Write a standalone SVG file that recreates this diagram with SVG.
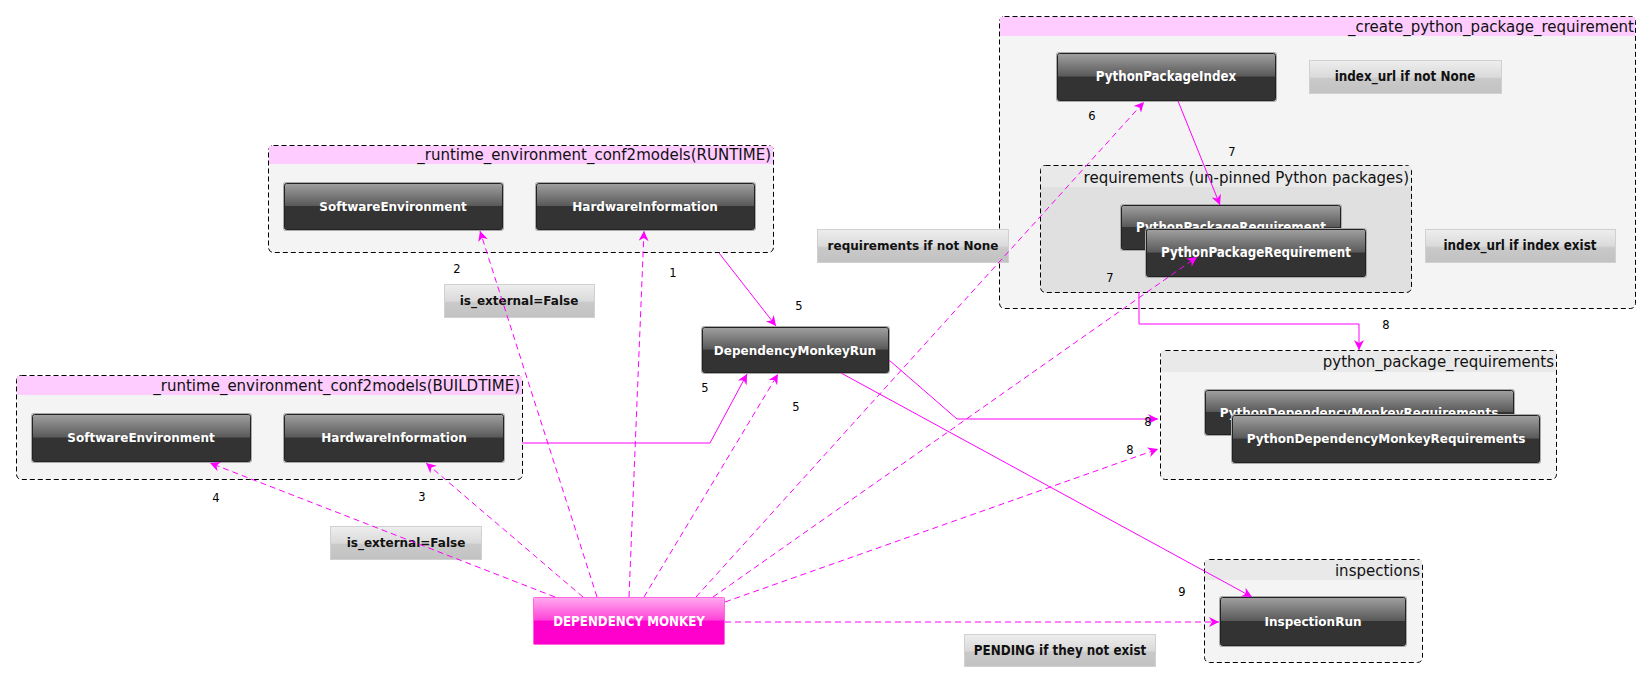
<svg xmlns="http://www.w3.org/2000/svg" width="1649" height="685" viewBox="0 0 1649 685">
  <style>
    .grp { fill: #f4f4f4; stroke: #000; stroke-width: 1; stroke-dasharray: 5 3; }
    .grp-dark { fill: #e0e0e0; stroke: #000; stroke-width: 1; stroke-dasharray: 5 3; }
    .hdr-pink { fill: #ffccff; }
    .hdr-grey { fill: #e9e9e9; }
    .gtitle { font-family: "DejaVu Sans", sans-serif; font-size: 15px; fill: #111; text-anchor: end; }
    .node-outer { fill: none; stroke: #aaa; stroke-width: 1; }
    .node { fill: url(#gDark); stroke: #222; stroke-width: 1; }
    .node-pink { fill: url(#gPink); stroke: #ff66dd; stroke-width: 1; }
    .ntext { font-family: "DejaVu Sans", sans-serif; font-weight: bold; font-size: 12px; fill: #fff; text-anchor: middle; }
    .ctext { font-family: "DejaVu Sans Condensed", "DejaVu Sans", sans-serif; font-stretch: condensed; font-weight: bold; font-size: 13.2px; fill: #fff; text-anchor: middle; }
    .lbl { fill: url(#gLabel); stroke: #d0d0d0; stroke-width: 1; }
    .ltext { font-family: "DejaVu Sans", sans-serif; font-weight: bold; font-size: 12px; fill: #111; text-anchor: middle; }
    .lctext { font-family: "DejaVu Sans Condensed", "DejaVu Sans", sans-serif; font-stretch: condensed; font-weight: bold; font-size: 13.3px; fill: #111; text-anchor: middle; }
    .num { font-family: "DejaVu Sans", sans-serif; font-size: 11.5px; fill: #000; text-anchor: middle; }
    .solid { fill: none; stroke: #ff00ff; stroke-width: 1; marker-end: url(#arrow); }
    .dash { fill: none; stroke: #ff00ff; stroke-width: 1; stroke-dasharray: 6 4; marker-end: url(#arrow); }
  </style>
  <defs>
    <linearGradient id="gDark" x1="0" y1="0" x2="0" y2="1">
      <stop offset="0" stop-color="#a0a0a0"/>
      <stop offset="0.48" stop-color="#5a5a5a"/>
      <stop offset="0.5" stop-color="#333"/>
      <stop offset="1" stop-color="#333"/>
    </linearGradient>
    <linearGradient id="gPink" x1="0" y1="0" x2="0" y2="1">
      <stop offset="0" stop-color="#ffaaee"/>
      <stop offset="0.48" stop-color="#ff44d8"/>
      <stop offset="0.5" stop-color="#ff00cc"/>
      <stop offset="1" stop-color="#ff00cc"/>
    </linearGradient>
    <linearGradient id="gLabel" x1="0" y1="0" x2="0" y2="1">
      <stop offset="0" stop-color="#eeeeee"/>
      <stop offset="0.5" stop-color="#dadada"/>
      <stop offset="0.55" stop-color="#c9c9c9"/>
      <stop offset="1" stop-color="#c2c2c2"/>
    </linearGradient>
    <marker id="arrow" viewBox="0 0 10 10" refX="10" refY="5" markerWidth="13" markerHeight="10" markerUnits="userSpaceOnUse" orient="auto">
      <path d="M0,0 L10,5 L0,10 L3,5 z" fill="#ff00ff"/>
    </marker>
  </defs>

  <!-- container groups -->
  <g id="grp-create-python-package-requirement">
    <rect class="grp" x="999.5" y="16.5" width="636" height="292" rx="5"/>
    <rect class="hdr-pink" x="1000" y="17" width="635" height="19"/>
    <text class="gtitle" x="1634" y="32">_create_python_package_requirement</text>
  </g>
  <g id="grp-requirements">
    <rect class="grp-dark" x="1040.5" y="165.5" width="371" height="127" rx="5"/>
    <rect class="hdr-grey" x="1041" y="166" width="370" height="21"/>
    <text class="gtitle" x="1409" y="183">requirements (un-pinned Python packages)</text>
  </g>
  <g id="grp-runtime">
    <rect class="grp" x="268.5" y="145.5" width="505" height="107" rx="5"/>
    <rect class="hdr-pink" x="269" y="146" width="504" height="18"/>
    <text class="gtitle" x="771" y="160">_runtime_environment_conf2models(RUNTIME)</text>
  </g>
  <g id="grp-buildtime">
    <rect class="grp" x="16.5" y="375.5" width="506" height="104" rx="5"/>
    <rect class="hdr-pink" x="17" y="376" width="505" height="19"/>
    <text class="gtitle" x="520" y="391">_runtime_environment_conf2models(BUILDTIME)</text>
  </g>
  <g id="grp-python-package-requirements">
    <rect class="grp" x="1160.5" y="350.5" width="396" height="129" rx="5"/>
    <rect class="hdr-grey" x="1161" y="351" width="395" height="21"/>
    <text class="gtitle" x="1554" y="367">python_package_requirements</text>
  </g>
  <g id="grp-inspections">
    <rect class="grp" x="1204.5" y="559.5" width="218" height="103" rx="5"/>
    <rect class="hdr-grey" x="1205" y="560" width="217" height="20"/>
    <text class="gtitle" x="1420" y="576">inspections</text>
  </g>

  <!-- nodes -->
  <g id="node-python-package-index">
    <rect class="node-outer" x="1056.5" y="52.5" width="220" height="49" rx="2"/>
    <rect class="node" x="1057.5" y="53.5" width="218" height="47" rx="2"/>
    <text class="ctext" x="1166" y="81">PythonPackageIndex</text>
  </g>
  <g id="node-ppr-back">
    <rect class="node-outer" x="1120.5" y="204.5" width="221" height="46" rx="2"/>
    <rect class="node" x="1121.5" y="205.5" width="219" height="44" rx="2"/>
    <text class="ctext" x="1231" y="232">PythonPackageRequirement</text>
  </g>
  <g id="node-ppr-front">
    <rect class="node-outer" x="1145.5" y="228.5" width="221" height="49" rx="2"/>
    <rect class="node" x="1146.5" y="229.5" width="219" height="47" rx="2"/>
    <text class="ctext" x="1256" y="257">PythonPackageRequirement</text>
  </g>
  <g id="node-software-env-runtime">
    <rect class="node-outer" x="283.5" y="182.5" width="220" height="48" rx="2"/>
    <rect class="node" x="284.5" y="183.5" width="218" height="46" rx="2"/>
    <text class="ntext" x="393" y="211">SoftwareEnvironment</text>
  </g>
  <g id="node-hardware-info-runtime">
    <rect class="node-outer" x="535.5" y="182.5" width="220" height="48" rx="2"/>
    <rect class="node" x="536.5" y="183.5" width="218" height="46" rx="2"/>
    <text class="ntext" x="645" y="211">HardwareInformation</text>
  </g>
  <g id="node-dependency-monkey-run">
    <rect class="node-outer" x="701.5" y="326.5" width="188" height="47" rx="2"/>
    <rect class="node" x="702.5" y="327.5" width="186" height="45" rx="2"/>
    <text class="ntext" x="795" y="355">DependencyMonkeyRun</text>
  </g>
  <g id="node-software-env-buildtime">
    <rect class="node-outer" x="31.5" y="413.5" width="220" height="49" rx="2"/>
    <rect class="node" x="32.5" y="414.5" width="218" height="47" rx="2"/>
    <text class="ntext" x="141" y="442">SoftwareEnvironment</text>
  </g>
  <g id="node-hardware-info-buildtime">
    <rect class="node-outer" x="283.5" y="413.5" width="221" height="49" rx="2"/>
    <rect class="node" x="284.5" y="414.5" width="219" height="47" rx="2"/>
    <text class="ntext" x="394" y="442">HardwareInformation</text>
  </g>
  <g id="node-pdm-requirements-back">
    <rect class="node-outer" x="1204.5" y="389.5" width="310" height="46" rx="2"/>
    <rect class="node" x="1205.5" y="390.5" width="308" height="44" rx="2"/>
    <text class="ntext" x="1359" y="417">PythonDependencyMonkeyRequirements</text>
  </g>
  <g id="node-pdm-requirements-front">
    <rect class="node-outer" x="1231.5" y="414.5" width="309" height="49" rx="2"/>
    <rect class="node" x="1232.5" y="415.5" width="307" height="47" rx="2"/>
    <text class="ntext" x="1386" y="443">PythonDependencyMonkeyRequirements</text>
  </g>
  <g id="node-inspection-run">
    <rect class="node-outer" x="1219.5" y="596.5" width="187" height="50" rx="2"/>
    <rect class="node" x="1220.5" y="597.5" width="185" height="48" rx="2"/>
    <text class="ntext" x="1313" y="626">InspectionRun</text>
  </g>
  <g id="node-dependency-monkey">
    <rect class="node-pink" x="533.5" y="597.5" width="191" height="47" rx="1"/>
    <text class="ctext" x="629" y="626">DEPENDENCY MONKEY</text>
  </g>

  <!-- condition labels -->
  <g id="label-index-url-not-none">
    <rect class="lbl" x="1309.5" y="60.5" width="192" height="33"/>
    <text class="lctext" x="1405" y="81">index_url if not None</text>
  </g>
  <g id="label-index-url-exist">
    <rect class="lbl" x="1425.5" y="229.5" width="190" height="33"/>
    <text class="lctext" x="1520" y="250">index_url if index exist</text>
  </g>
  <g id="label-requirements-not-none">
    <rect class="lbl" x="817.5" y="229.5" width="191" height="33"/>
    <text class="ltext" x="913" y="250">requirements if not None</text>
  </g>
  <g id="label-is-external-runtime">
    <rect class="lbl" x="444.5" y="284.5" width="150" height="33"/>
    <text class="ltext" x="519" y="305">is_external=False</text>
  </g>
  <g id="label-is-external-buildtime">
    <rect class="lbl" x="330.5" y="526.5" width="151" height="33"/>
    <text class="ltext" x="406" y="547">is_external=False</text>
  </g>
  <g id="label-pending">
    <rect class="lbl" x="964.5" y="634.5" width="191" height="32"/>
    <text class="lctext" x="1060" y="655">PENDING if they not exist</text>
  </g>

  <!-- connectors -->
  <g id="connectors">
    <path class="solid" d="M719,253 L776,326"/>
    <path class="solid" d="M522,443 L710,443 L747,374"/>
    <path class="dash" d="M597,597 L480,231"/>
    <path class="dash" d="M629,597 L644,231"/>
    <path class="dash" d="M555,597 L210,463"/>
    <path class="dash" d="M583,597 L426,463"/>
    <path class="dash" d="M644,597 L778,374"/>
    <path class="dash" d="M696,597 L1144,102"/>
    <path class="dash" d="M713,597 L1197,257"/>
    <path class="dash" d="M725,602 L1158,449"/>
    <path class="dash" d="M725,622 L1219,622"/>
    <path class="solid" d="M841,373 L1252,597"/>
    <path class="solid" d="M889,360 L957,419 L1158,419"/>
    <path class="solid" d="M1178,101 L1220,205"/>
    <path class="solid" d="M1139,292 L1139,324 L1359,324 L1359,350"/>

    <text class="num" x="673" y="277">1</text>
    <text class="num" x="457" y="273">2</text>
    <text class="num" x="422" y="501">3</text>
    <text class="num" x="216" y="502">4</text>
    <text class="num" x="799" y="310">5</text>
    <text class="num" x="705" y="392">5</text>
    <text class="num" x="796" y="411">5</text>
    <text class="num" x="1092" y="120">6</text>
    <text class="num" x="1232" y="156">7</text>
    <text class="num" x="1110" y="282">7</text>
    <text class="num" x="1386" y="329">8</text>
    <text class="num" x="1148" y="426">8</text>
    <text class="num" x="1130" y="454">8</text>
    <text class="num" x="1182" y="596">9</text>
  </g>
</svg>
